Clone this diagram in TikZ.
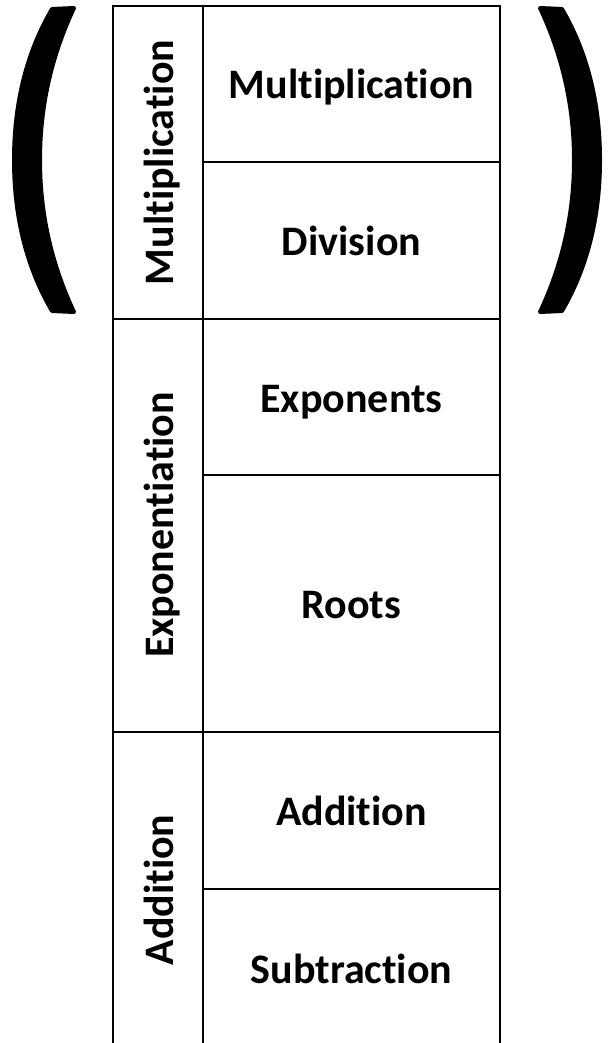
\documentclass[tikz,border=0pt]{standalone}
\usepackage{fontspec}
\setmainfont{Carlito}[Ligatures={NoCommon,NoContextual}]
\begin{document}
\begin{tikzpicture}[x=1pt,y=-1pt,
  cell/.style={draw=black, line width=1.8pt, rectangle, inner sep=0pt, outer sep=0pt, anchor=north west},
  lbl/.style={font=\fontsize{42}{50}\selectfont\bfseries, inner sep=0pt, anchor=base},
  vlbl/.style={lbl, rotate=90},
  paren/.style={fill=black, draw=black, line width=4pt, line join=round}]
\useasboundingbox (0,0) rectangle (610,1043);
\clip (0,0) rectangle (610,1043);
% left group column
\node[cell, minimum width=90pt, minimum height=313pt] (gm) at (113,6) {};
\node[cell, minimum width=90pt, minimum height=413pt] (ge) at (113,319) {};
\node[cell, minimum width=90pt, minimum height=317pt] (ga) at (113,732) {};
% right column
\node[cell, minimum width=297pt, minimum height=156pt] (cm) at (203,6) {};
\node[cell, minimum width=297pt, minimum height=157pt] (cd) at (203,162) {};
\node[cell, minimum width=297pt, minimum height=156pt] (ce) at (203,319) {};
\node[cell, minimum width=297pt, minimum height=257pt] (cr) at (203,475) {};
\node[cell, minimum width=297pt, minimum height=157pt] (ca) at (203,732) {};
\node[cell, minimum width=297pt, minimum height=160pt] (cs) at (203,889) {};
% texts
\node[vlbl] (tgm) at (173,162.5) {Multiplication};
\node[vlbl] (tge) at (173,525) {Exponentiation};
\node[vlbl] (tga) at (173,890) {Addition};
\node[lbl] (tm) at (351.5,99) {Multiplication};
\node[lbl] (td) at (351.5,255) {Division};
\node[lbl] (te) at (351.5,412) {Exponents};
\node[lbl] (tr) at (351.5,618) {Roots};
\node[lbl] (ta) at (351.5,825) {Addition};
\node[lbl] (ts) at (351.5,983) {Subtraction};
% parentheses
\filldraw[paren] (52,9) .. controls (28,50) and (14,100) .. (14,160)
  .. controls (14,220) and (28,270) .. (52,311) -- (74,312)
  .. controls (52,265) and (40,215) .. (40,160)
  .. controls (40,105) and (52,55) .. (74,8) -- cycle;
\filldraw[paren] (562,9) .. controls (586,50) and (600,100) .. (600,160)
  .. controls (600,220) and (586,270) .. (562,311) -- (540,312)
  .. controls (562,265) and (574,215) .. (574,160)
  .. controls (574,105) and (562,55) .. (540,8) -- cycle;
\end{tikzpicture}
\end{document}
